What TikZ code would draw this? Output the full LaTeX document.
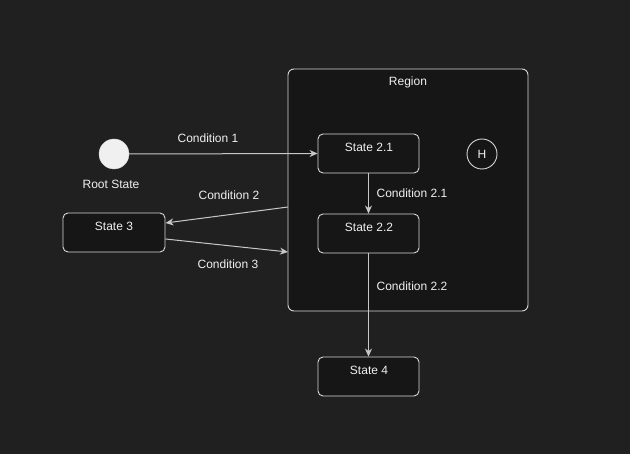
\documentclass[tikz,border=0pt]{standalone}
\usepackage{fontspec}
\setmainfont{Liberation Sans}
\usetikzlibrary{arrows.meta}
\definecolor{bg}{HTML}{202020}
\definecolor{boxfill}{HTML}{161616}
\definecolor{edge}{HTML}{D8D8D8}
\definecolor{txt}{HTML}{F0F0F0}
\definecolor{arr}{HTML}{C8C8C8}
\begin{document}
\begin{tikzpicture}[x=1pt,y=-1pt,
  every node/.style={font=\fontsize{12}{14}\selectfont, text=txt, inner sep=0pt},
  statebox/.style={draw=edge, fill=boxfill, rounded corners=5pt, line width=0.9pt},
  lbl/.style={},
  conn/.style={draw=arr, line width=1pt, -{Stealth[length=8pt,width=7pt,inset=2.5pt]}}
]
\fill[bg] (0,0) rectangle (630,454);
\useasboundingbox (0,0) rectangle (630,454);
% region
\draw[statebox, rounded corners=6pt] (288,69) rectangle (528,311);
\node (regionlbl) at (408,82) {Region};
% root
\node[circle, fill=txt, draw=edge, minimum size=30pt] (root) at (114,154) {};
\node (rootlbl) at (111,184) {Root State};
% states
\node[statebox, minimum width=102pt, minimum height=39pt] (s3) at (114,232.5) {};
\node at (114,226) {State 3};
\node[statebox, minimum width=101pt, minimum height=39pt] (s21) at (368.5,153.5) {};
\node at (369,147) {State 2.1};
\node[statebox, minimum width=101pt, minimum height=39pt] (s22) at (368.5,233.5) {};
\node at (369,227) {State 2.2};
\node[statebox, minimum width=101pt, minimum height=39pt] (s4) at (368.5,376.5) {};
\node at (369,370) {State 4};
\node[circle, draw=edge, fill=boxfill, line width=0.9pt, minimum size=30pt] (h) at (482,154) {H};
% connectors
\coordinate (c2start) at (288,207);
\coordinate (c3end) at (288,252);
\draw[conn] (root.east) -- (s21.west);
\draw[conn] (c2start) -- (s3.east |- 0,223);
\draw[conn] (s3.east |- 0,239) -- (c3end);
\draw[conn] (s21.south) -- (s22.north);
\draw[conn] (s22.south) -- (s4.north);
% labels
\node at (208,138) {Condition 1};
\node at (229,195) {Condition 2};
\node at (228,264) {Condition 3};
\node at (412,193) {Condition 2.1};
\node at (412,286) {Condition 2.2};
\end{tikzpicture}
\end{document}
